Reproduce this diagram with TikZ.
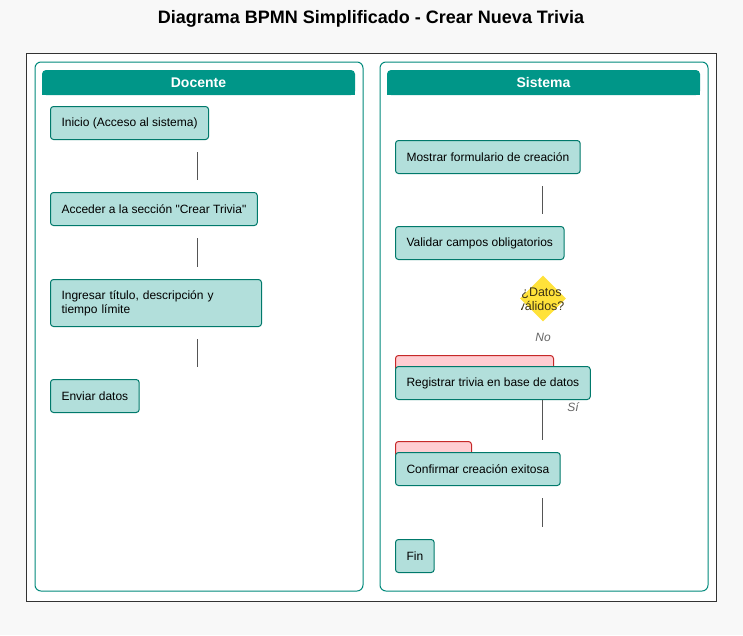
\documentclass[tikz,border=0pt]{standalone}
\usepackage{fontspec}
\setmainfont{Liberation Sans}
\newfontfamily\plainfont{Liberation Sans}
\usetikzlibrary{shapes.geometric,calc}
\definecolor{bg}{HTML}{F8F8F8}
\definecolor{lane}{HTML}{00897B}
\definecolor{hdr}{HTML}{009688}
\definecolor{taskfill}{HTML}{B2DFDB}
\definecolor{taskdraw}{HTML}{00796B}
\definecolor{pinkfill}{HTML}{FFCDD2}
\definecolor{pinkdraw}{HTML}{C62828}
\definecolor{gold}{HTML}{FFE23A}
\definecolor{conn}{HTML}{555555}
\definecolor{lbl}{HTML}{666666}
\definecolor{dtext}{HTML}{3E3414}
\tikzset{
  task/.style={draw=taskdraw, fill=taskfill, line width=1pt, rounded corners=3pt,
    anchor=north west, inner xsep=11pt, inner ysep=0pt, minimum height=33pt,
    font=\fontsize{12}{14}\selectfont, align=left},
  errbox/.style={draw=pinkdraw, fill=pinkfill, line width=1pt, rounded corners=3pt,
    anchor=north west, inner sep=0pt, minimum height=33pt},
  conline/.style={draw=conn, line width=1pt},
  lanebox/.style={draw=lane, fill=white, line width=1pt, rounded corners=6pt},
  hdrtext/.style={text=white, font=\bfseries\fontsize{14}{16}\selectfont},
  lbltext/.style={text=lbl, font=\itshape\fontsize{12}{14}\selectfont},
}
\begin{document}
\begin{tikzpicture}[x=1pt,y=-1pt]
\useasboundingbox[fill=bg] (0,0) rectangle (743,635);
\node (title) at (371,19) {\bfseries\fontsize{18}{21}\selectfont Diagrama BPMN Simplificado - Crear Nueva Trivia};
\draw[draw=black!80, fill=white, line width=1pt] (26,53) rectangle (716,601);
% lanes
\draw[lanebox] (35,62) rectangle (363,591);
\draw[lanebox] (380,62) rectangle (708,591);
\fill[hdr, rounded corners=4pt] (42,70) rectangle (355,95);
\fill[hdr] (42,85) rectangle (355,95);
\fill[hdr, rounded corners=4pt] (387,70) rectangle (700,95);
\fill[hdr] (387,85) rectangle (700,95);
\node[hdrtext] (docente) at (198.5,82.5) {Docente};
\node[hdrtext] (sistema) at (543.5,82.5) {Sistema};
% left tasks
\node[task] (inicio) at (50,106) {Inicio (Acceso al sistema)};
\node[task] (acceder) at (50,192) {\plainfont Acceder a la sección "Crear Trivia"};
\node[task, minimum height=47pt, text width=189pt] (ingresar) at (50,279) {Ingresar título, descripción y\\tiempo límite};
\node[task] (enviar) at (50,379) {Enviar datos};
\draw[conline] ($(inicio.south west)+(147,12)$) -- ($(acceder.north west)+(147,-12)$);
\draw[conline] ($(acceder.south west)+(147,12)$) -- ($(ingresar.north west)+(147,-12)$);
\draw[conline] ($(ingresar.south west)+(147,12)$) -- ($(enviar.north west)+(147,-12)$);
% right tasks
\node[task] (mostrar) at (395,140) {Mostrar formulario de creación};
\node[task] (validar) at (395,226) {Validar campos obligatorios};
\node[diamond, fill=gold, inner sep=0pt, minimum width=46pt, minimum height=46pt] (dec) at (543,298.5) {};
\begin{scope}
\clip (521,275) rectangle (564.5,322);
\node[text=dtext, align=center, font=\fontsize{12.5}{14}\selectfont] (dectext) at (541.5,299) {¿Datos\\válidos?};
\end{scope}
\node[lbltext] (no) at (543,337) {No};
\node[errbox, minimum width=158pt] (err1) at (395,355) {};
\node[task] (registrar) at (395,366) {Registrar trivia en base de datos};
\node[lbltext] (si) at (573,407) {Sí};
\node[errbox, minimum width=76pt] (err2) at (395,441) {};
\node[task] (confirmar) at (395,452) {Confirmar creación exitosa};
\node[task] (fin) at (395,539) {Fin};
\draw[conline] ($(mostrar.south west)+(147,12)$) -- ($(validar.north west)+(147,-12)$);
\draw[conline] ($(registrar.south west)+(147,0)$) -- ($(err2.north west)+(147,-1)$);
\draw[conline] ($(confirmar.south west)+(147,12)$) -- ($(fin.north west)+(147,-12)$);
\end{tikzpicture}
\end{document}
